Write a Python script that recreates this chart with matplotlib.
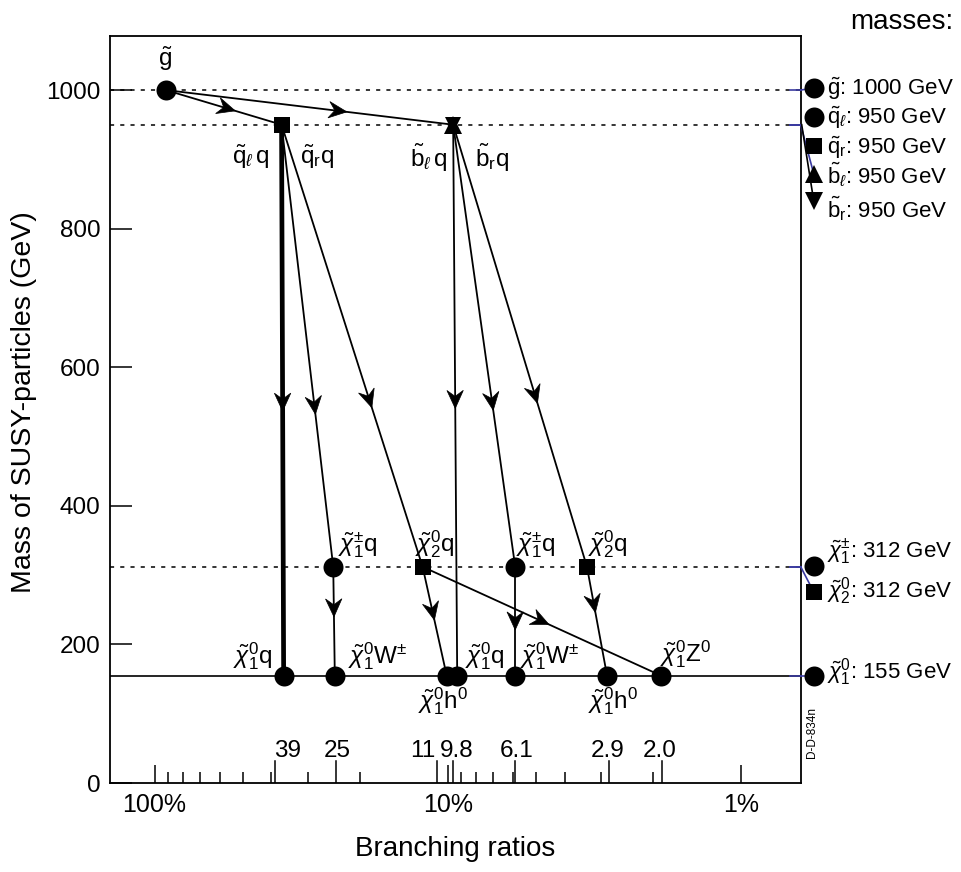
import matplotlib
matplotlib.use('Agg')
import numpy as np
import matplotlib.pyplot as plt
import matplotlib.transforms as mtransforms
from matplotlib.patches import Polygon
from matplotlib.ticker import FixedLocator, FixedFormatter, NullFormatter

plt.rcParams['font.family'] = ['Liberation Sans', 'DejaVu Sans']
plt.rcParams['mathtext.fontset'] = 'custom'
plt.rcParams['mathtext.rm'] = 'Liberation Sans'
plt.rcParams['mathtext.it'] = 'Liberation Sans:italic'
plt.rcParams['mathtext.bf'] = 'Liberation Sans:bold'

# ---------------- data ----------------
# decay-chain nodes: position on the branching-ratio axis (%) and mass (GeV)
node_br = [91.6, 36.9, 9.6, 24.6, 12.2, 5.9, 3.36, 36.3, 24.3, 10.1, 9.3, 5.9, 2.87, 1.88]
node_mass = [1000, 950, 950, 312, 312, 312, 312, 155, 155, 155, 155, 155, 155, 155]
node_type = ['gluino', 'squark', 'sbottom', 'chargino', 'neutralino2', 'chargino',
             'neutralino2', 'lsp', 'lsp', 'lsp', 'lsp', 'lsp', 'lsp', 'lsp']

# decays (parent node -> daughter node)
decay_from = [0, 0, 1, 1, 1, 2, 2, 2, 3, 4, 4, 5, 6]
decay_to = [1, 2, 7, 3, 4, 10, 5, 6, 8, 9, 13, 11, 12]

# final-state labels and the node they belong to
chi10 = r'\tilde{\chi}^{0}_{1}'
label_text = [r'$\tilde{\mathrm{g}}$',
              r'$\tilde{\mathrm{q}}_{\ell}\,$q', r'$\tilde{\mathrm{q}}_{\mathrm{r}}$q',
              r'$\tilde{\mathrm{b}}_{\ell}\,$q', r'$\tilde{\mathrm{b}}_{\mathrm{r}}$q',
              r'$\tilde{\chi}^{\pm}_{1}$q', r'$\tilde{\chi}^{0}_{2}$q',
              r'$\tilde{\chi}^{\pm}_{1}$q', r'$\tilde{\chi}^{0}_{2}$q',
              '$' + chi10 + '$q', '$' + chi10 + r'$W$^{\pm}$', '$' + chi10 + '$h$^{0}$',
              '$' + chi10 + '$q', '$' + chi10 + r'$W$^{\pm}$', '$' + chi10 + '$h$^{0}$',
              '$' + chi10 + '$Z$^{0}$']
label_node = [0, 1, 1, 2, 2, 3, 4, 5, 6, 7, 8, 9, 10, 11, 12, 13]

# labelled branching ratios on the bottom axis
br_ticks = [39, 24, 10.9, 9.65, 5.9, 2.83, 1.87]
br_tick_labels = ['39', '25', '11', '9.8', '6.1', '2.9', '2.0']

# mass levels
dotted_levels = [1000, 950, 312]
lsp_mass = 155

# mass legend on the right
legend_names = [r'\tilde{\mathrm{g}}', r'\tilde{\mathrm{q}}_{\ell}', r'\tilde{\mathrm{q}}_{\mathrm{r}}',
                r'\tilde{\mathrm{b}}_{\ell}', r'\tilde{\mathrm{b}}_{\mathrm{r}}',
                r'\tilde{\chi}^{\pm}_{1}', r'\tilde{\chi}^{0}_{2}', r'\tilde{\chi}^{0}_{1}']
legend_mass = [1000, 950, 950, 950, 950, 312, 312, 155]
legend_type = ['gluino', 'squark_l', 'squark_r', 'sbottom_l', 'sbottom_r',
               'chargino', 'neutralino2', 'lsp']

# ---------------- style / layout ----------------
markers = {'gluino': ['o'], 'squark': ['s'], 'sbottom': ['v', '^'], 'chargino': ['o'],
           'neutralino2': ['s'], 'lsp': ['o'], 'squark_l': ['o'], 'squark_r': ['s'],
           'sbottom_l': ['^'], 'sbottom_r': ['v']}
msize = {'o': 14.4, 's': 12, '^': 13, 'v': 11}
edge_lw = [1.3, 1.3, 3.4, 1.3, 1.3, 1.3, 1.3, 1.3, 1.3, 1.3, 1.3, 1.3, 1.3]
arrow_frac = [0.6, 0.63, 0.52, 0.655, 0.64, 0.515, 0.646, 0.63, 0.46, 0.49, 0.53, 0.58, 0.42]
# (dx px, dy px upwards, ha) for each label
label_off = [(0, 24, 'center'), (-12, -39, 'right'), (18, -39, 'left'), (-6, -42, 'right'),
             (22, -42, 'left'), (5, 15, 'left'), (-8, 15, 'left'), (1, 15, 'left'),
             (1, 15, 'left'), (-11, 12, 'right'), (13, 12, 'left'), (-4, -33, 'center'),
             (8, 12, 'left'), (5, 12, 'left'), (6, -33, 'center'), (-1, 14, 'left')]
br_label_dx = [13, 1, -14, 4, 1, -1, -2]
leg_marker_dy = [2, 8, -21, -49, -76, 1, -25, 0]
leg_text_dy = [-5, 1, -29, -59, -93, 9, -31, -3]
blue = '#3a3aa0'

W, H = 962, 872
fig = plt.figure(figsize=(W / 100, H / 100), dpi=100)
ax = fig.add_axes([110 / W, 89 / H, 690.7 / W, 747 / H])
ax.set_xscale('log')
ax.set_xlim(141.8, 0.628)
ax.set_ylim(0, 1078)

for s in ax.spines.values():
    s.set_linewidth(1.3)

# y axis
ax.yaxis.set_major_locator(FixedLocator([0, 200, 400, 600, 800, 1000]))
ax.yaxis.set_minor_locator(FixedLocator([]))
ax.tick_params(axis='y', which='major', direction='in', length=15.8, width=1.1,
               labelsize=17.5, pad=7)
ax.set_ylabel('Mass of SUSY-particles (GeV)', fontsize=20.5)
ax.yaxis.set_label_coords(-0.105, 0.51)

# x axis
ax.xaxis.set_major_locator(FixedLocator([100, 10, 1]))
ax.xaxis.set_major_formatter(FixedFormatter(['100%', '10%', '1%']))
ax.xaxis.set_minor_locator(FixedLocator([90, 80, 70, 60, 50, 40, 30, 20,
                                         9, 8, 7, 6, 5, 4, 3, 2]))
ax.xaxis.set_minor_formatter(NullFormatter())
ax.tick_params(axis='x', which='major', direction='in', length=12.7, width=1.1,
               labelsize=18, pad=7)
ax.tick_params(axis='x', which='minor', direction='in', length=8, width=1.1)
ax.set_xlabel('Branching ratios', fontsize=20)
ax.xaxis.set_label_coords(0.5, -0.071)

# labelled branching-ratio ticks
btrans = mtransforms.blended_transform_factory(ax.transData, ax.transAxes)
for v, lab, dx in zip(br_ticks, br_tick_labels, br_label_dx):
    ax.axvline(v, ymin=0, ymax=21.7 / 747, color='k', lw=1.1, zorder=2)
    t = mtransforms.offset_copy(btrans, fig=fig, x=dx, y=0, units='dots')
    ax.text(v, 0.0348, lab, transform=t, ha='center', va='baseline', fontsize=17.5)

# mass levels
for m in dotted_levels:
    ax.axhline(m, color='k', lw=1.1, ls=(0, (2.7, 4)), zorder=1)
ax.axhline(lsp_mass, color='k', lw=1.2, zorder=1)

# decay lines and arrow heads
to_px = ax.transData.transform
for a, b, lw, fr in zip(decay_from, decay_to, edge_lw, arrow_frac):
    ax.plot([node_br[a], node_br[b]], [node_mass[a], node_mass[b]], color='k',
            lw=lw, solid_capstyle='butt', zorder=2)
    p0 = to_px((node_br[a], node_mass[a]))
    p1 = to_px((node_br[b], node_mass[b]))
    d = (p1 - p0) / np.hypot(*(p1 - p0))
    n = np.array([-d[1], d[0]])
    tip = p0 + fr * (p1 - p0)
    L, hw, notch = 18, 8.2, 6
    verts = [tip, tip - L * d + hw * n, tip - (L - notch) * d, tip - L * d - hw * n]
    ax.add_patch(Polygon(verts, closed=True, transform=mtransforms.IdentityTransform(),
                         facecolor='k', edgecolor='k', lw=0.5, zorder=3))

# nodes
for x, m, kind in zip(node_br, node_mass, node_type):
    for mk in markers[kind]:
        ax.plot(x, m, marker=mk, ms=msize[mk], color='k', mew=0, zorder=4)

# node labels
for txt, ni, (dx, dy, ha) in zip(label_text, label_node, label_off):
    t = mtransforms.offset_copy(ax.transData, fig=fig, x=dx, y=dy, units='dots')
    ax.text(node_br[ni], node_mass[ni], txt, transform=t, ha=ha, va='baseline',
            fontsize=17.5, zorder=5)

# mass legend outside the frame
ltrans = mtransforms.blended_transform_factory(ax.transAxes, ax.transData)
spine_x = ax.transAxes.transform((1, 0))[0]
for name, m, kind, mdy, tdy in zip(legend_names, legend_mass, legend_type,
                                    leg_marker_dy, leg_text_dy):
    mk = markers[kind][0]
    line_y = ltrans.transform((1, m))[1]
    mx, my = spine_x + 13, line_y + mdy
    ax.plot([spine_x - 11, spine_x], [line_y, line_y], color=blue, lw=1.2,
            transform=mtransforms.IdentityTransform(), clip_on=False, zorder=3)
    if kind in ('gluino', 'lsp', 'sbottom_l', 'neutralino2'):
        ax.plot([spine_x, mx], [line_y, my], color=blue, lw=1.2,
                transform=mtransforms.IdentityTransform(), clip_on=False, zorder=3)
    if kind == 'sbottom_r':
        ax.plot([spine_x + 1, mx], [line_y, my], color='k', lw=1.2,
                transform=mtransforms.IdentityTransform(), clip_on=False, zorder=3)
    ax.plot(mx, my, marker=mk, ms=msize[mk] + (2 if mk == 'v' else 0), color='k', mew=0,
            transform=mtransforms.IdentityTransform(), clip_on=False, zorder=4)
    ax.text(spine_x + 26, line_y + tdy, '$' + name + '$: %d GeV' % m,
            transform=mtransforms.IdentityTransform(), ha='left', va='baseline',
            fontsize=16, clip_on=False)

fig.text(902 / W, 1 - 22 / H, 'masses:', ha='center', va='center', fontsize=20)
fig.text(812 / W, 1 - 732 / H, 'D-D-834n', rotation=90, ha='center', va='center',
         fontsize=8.5)

fig.savefig('out.png', dpi=100)
